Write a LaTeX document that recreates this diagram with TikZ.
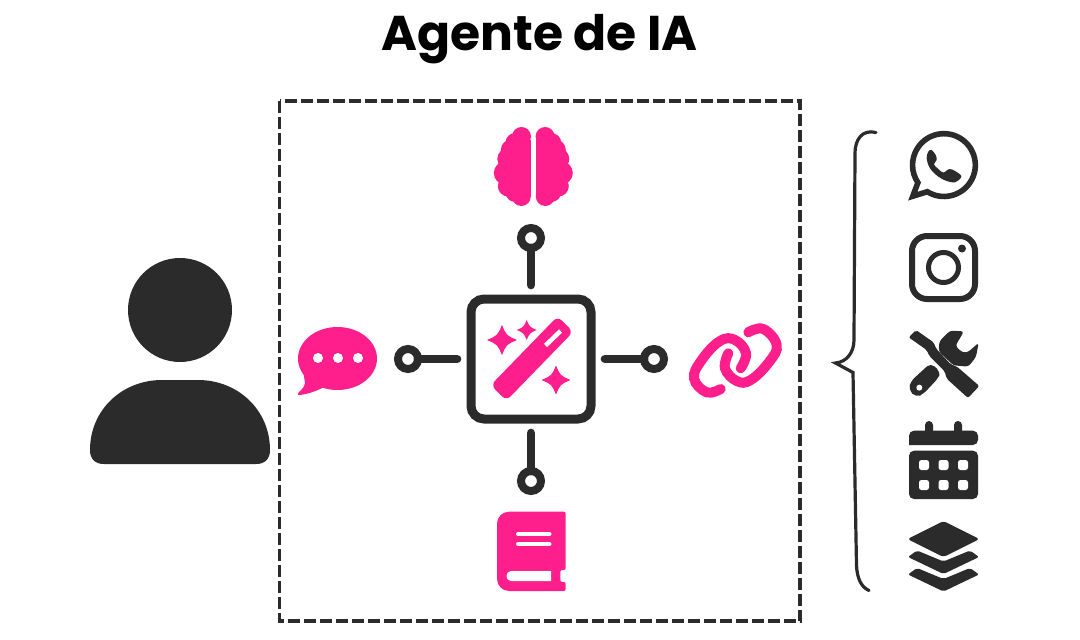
\documentclass[tikz,border=0pt]{standalone}
\usepackage{fontspec}
\setmainfont{Poppins}
\usetikzlibrary{shapes}
\definecolor{inkdark}{HTML}{2B2B2B}
\definecolor{inkpink}{HTML}{FF1F8C}
\tikzset{
    titletext/.style={font=\fontsize{48.8}{52}\selectfont\bfseries, text=black, inner sep=0pt},
    agentbox/.style={draw=inkdark, line width=3.5pt, dash pattern=on 12pt off 4pt},
    hubbox/.style={draw=inkdark, line width=9pt, rounded corners=13pt, minimum size=120pt, inner sep=0pt, outer sep=14pt},
    ringnode/.style={circle, draw=inkdark, line width=8pt, minimum size=20pt, inner sep=0pt, outer sep=0pt},
    stubline/.style={draw=inkdark, line width=8.7pt, line cap=round},
    darkicon/.style={fill=inkdark},
    pinkicon/.style={fill=inkpink},
    holeline/.style={draw=white, line cap=round},
    linkline/.style={draw=inkpink, line width=10pt, line cap=round},
    cropa/.style={x=0.3333pt, y=-0.3333pt}
}
\begin{document}
\begin{tikzpicture}[x=1pt, y=-1pt]
    \useasboundingbox (0,0) rectangle (1080,640);
    \node[titletext] (title) at (539.5,39.5) {Agente de IA};
    \draw[agentbox] (279.5,101) rectangle (800,621);

    \fill[darkicon] (180,310) circle (52);
    \fill[darkicon] (90,450) .. controls (90,410) and (122,380) .. (162,380) -- (198,380)
        .. controls (238,380) and (270,410) .. (270,450) .. controls (270,459) and (265,464) .. (256,464)
        -- (104,464) .. controls (95,464) and (90,459) .. (90,450) -- cycle;

    \node[hubbox] (hub) at (531,359) {};
    \node[ringnode] (ringtop) at (531,238) {};
    \node[ringnode] (ringleft) at (408,359) {};
    \node[ringnode] (ringright) at (654,359) {};
    \node[ringnode] (ringbottom) at (531,481) {};
    \draw[stubline] (hub.north) -- (ringtop);
    \draw[stubline] (hub.west) -- (ringleft);
    \draw[stubline] (hub.east) -- (ringright);
    \draw[stubline] (hub.south) -- (ringbottom);

    \fill[pinkicon, rounded corners=6pt] (490.8,385.1) -- (506.4,400.7) -- (573.2,331.9) -- (557.6,316.3) -- cycle;
    \draw[white, line width=4.5pt] (545.5,345.5) -- (560.5,331);
    \foreach \sx/\sy/\sr in {502/340/15, 526.7/330/10, 556/380/14.5} {
        \fill[pinkicon] (\sx,\sy-\sr) .. controls (\sx+0.3*\sr,\sy-0.3*\sr) .. (\sx+\sr,\sy)
            .. controls (\sx+0.3*\sr,\sy+0.3*\sr) .. (\sx,\sy+\sr)
            .. controls (\sx-0.3*\sr,\sy+0.3*\sr) .. (\sx-\sr,\sy)
            .. controls (\sx-0.3*\sr,\sy-0.3*\sr) .. (\sx,\sy-\sr) -- cycle;
    }

    \foreach \side in {1,-1} {
        \begin{scope}[shift={(533.3,0)}, xscale=\side]
            \foreach \cx/\cy/\cr in {-11.8/136.5/9.5, -18/143/10, -22/150/10.5, -25/159/11, -28/173/11.5, -25/186/10.5, -18/192/10, -12/196.5/9.5} {
                \fill[pinkicon] (\cx,\cy) circle (\cr);
            }
            \fill[pinkicon] (-24,140) rectangle (-2.6,197);
        \end{scope}
    }

    \fill[pinkicon] (337.5,358.5) ellipse (39.5 and 31.5);
    \fill[pinkicon] (303,370) -- (305,383) .. controls (304,388) and (301,390) .. (298.5,392.5)
        .. controls (297,394.5) and (298,395.5) .. (300,395) .. controls (308,394) and (317,391) .. (326,386) -- cycle;
    \foreach \dotx in {318,338,358} {
        \fill[white] (\dotx,358) circle (5);
    }

    \draw[linkline] plot[smooth, tension=0.7] coordinates {(720.7,389) (706.7,392.3) (694,378.3) (701.7,360) (720,341) (735,340) (746,353.3) (740.7,368.3)};
    \draw[linkline] plot[smooth, tension=0.7] coordinates {(748.3,332.3) (763.3,329) (776.7,345) (769.3,361.7) (750.7,380) (736.7,381) (725,368.3) (728.3,353.3)};

    \fill[pinkicon, rounded corners=12pt] (531,511.7) -- (497,511.7) -- (497,591)
        [rounded corners=2pt] -- (565.7,591) -- (565.7,582) -- (560.3,582) -- (560.3,570) -- (565.7,570) -- (565.7,511.7) -- cycle;
    \fill[white] (551,571) -- (511,571) .. controls (505,571) and (505,581) .. (511,581) -- (551,581) -- cycle;
    \draw[holeline, line width=4pt] (518,534) -- (549.5,534);
    \draw[holeline, line width=4pt] (518,544) -- (549.5,544);

    \draw[line width=3.2pt, draw=inkdark, line cap=round] (876,132.5) .. controls (862,129) and (855,140) .. (855,153)
        -- (854,340) .. controls (854,352) and (847,362) .. (835.5,363) -- (853,372.5)
        -- (856.5,565) .. controls (857,578) and (861,587) .. (869,590.5);

    \draw[draw=inkdark, line width=5.6pt, line join=miter] (927.3,191.7) arc[start angle=122, end angle=-214, radius=31.4] -- (912.8,196.2) -- cycle;
    \begin{scope}[shift={(900,125)}, cropa]
        \fill[darkicon] plot[smooth cycle, tension=0.6] coordinates {(95,75) (107,90) (110,105) (102,118) (115,132) (130,143) (142,135) (155,133) (180,148) (183,158) (165,172) (140,168) (115,155) (90,130) (80,100) (85,80)};
    \end{scope}

    \draw[draw=inkdark, line width=6pt, rounded corners=15pt] (912,236) rectangle (975,299);
    \draw[draw=inkdark, line width=5pt] (943.5,267.5) circle (15);
    \fill[darkicon] (962,248.5) circle (4);

    \begin{scope}[shift={(900,322)}, cropa]
        \fill[darkicon, rounded corners=2pt] (26,46) -- (48,24) -- (102,62) -- (107,78) -- (152,127) -- (170,133) -- (238,192) -- (204,228) -- (140,170) -- (134,148) -- (88,102) -- (80,84) -- cycle;
        \fill[darkicon, rounded corners=3pt] (192,28) -- (150,26) -- (118,58) -- (116,88) -- (160,130) -- (205,134) -- (228,105) -- (236,62) -- (205,90) -- (188,92) -- (166,72) -- cycle;
        \fill[darkicon, rounded corners=5pt] (92,123) -- (122,150) -- (115,168) -- (70,216) -- (48,226) -- (26,204) -- (32,178) -- cycle;
        \fill[white] (58,197) circle (9);
    \end{scope}

    \fill[darkicon, rounded corners=5pt] (909,445) -- (909,430.7) -- (978,430.7) -- (978,445) [sharp corners] -- cycle;
    \fill[darkicon, rounded corners=5pt] (909,450.7) -- (978,450.7) [rounded corners=5pt] -- (978,499) -- (909,499) -- cycle;
    \fill[darkicon, rounded corners=4pt] (925,421) rectangle (933,436);
    \fill[darkicon, rounded corners=4pt] (954,421) rectangle (962,436);
    \foreach \cellx in {924,943.5,963} {
        \foreach \celly in {465,485} {
            \fill[white, rounded corners=2.5pt] (\cellx-5,\celly-5) rectangle (\cellx+5,\celly+5);
        }
    }

    \fill[darkicon, rounded corners=3pt] (943.5,521) -- (979.5,539) -- (943.5,557) -- (907.5,539) -- cycle;
    \foreach \layerdy in {0,17.5} {
        \fill[darkicon, rounded corners=2pt] (917,550.5+\layerdy) -- (943.5,561.5+\layerdy) -- (970,550.5+\layerdy) -- (979,557+\layerdy) -- (943.5,574+\layerdy) -- (908,557+\layerdy) -- cycle;
    }
\end{tikzpicture}
\end{document}
